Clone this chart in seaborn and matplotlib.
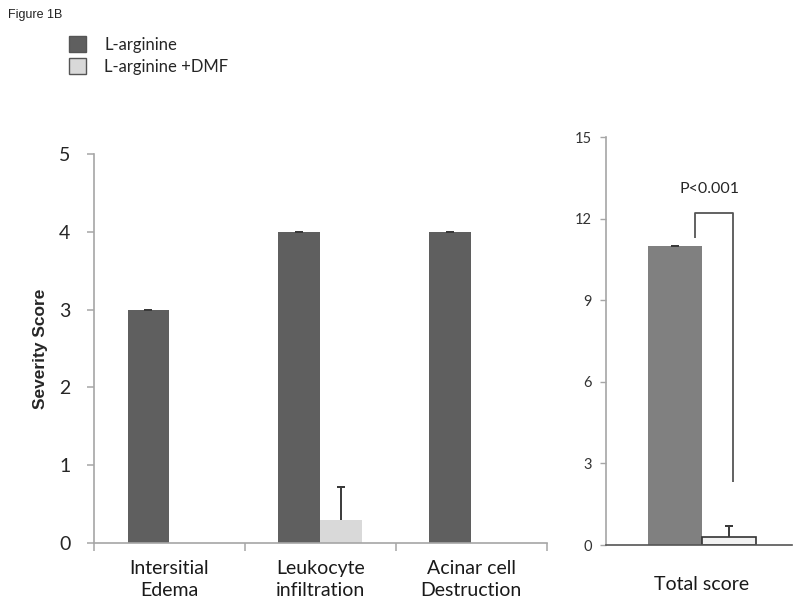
import pandas as pd
import matplotlib
matplotlib.use("Agg")
import matplotlib.pyplot as plt
from matplotlib.patches import Patch
import seaborn as sns

sns.set_theme(style="white")
plt.rcParams['font.family'] = ['Lato', 'DejaVu Sans']

# ---- data ----
categories = ["Intersitial\nEdema", "Leukocyte\ninfiltration", "Acinar cell\nDestruction"]
groups = ["L-arginine", "L-arginine +DMF"]
larg_vals = [3, 4, 4]
larg_err = [0, 0, 0]
dmf_vals = [0, 0.3, 0]
dmf_err = [0, 0.42, 0]

total_label = ["Total score"]
total_vals = [11, 0.3]
total_err = [0, 0.4]

left_yticks = [0, 1, 2, 3, 4, 5]
right_yticks = [0, 3, 6, 9, 12, 15]

df_left = pd.DataFrame({
    "category": categories * 2,
    "group": [groups[0]] * 3 + [groups[1]] * 3,
    "score": larg_vals + dmf_vals,
    "err": larg_err + dmf_err,
})
df_right = pd.DataFrame({
    "category": total_label * 2,
    "group": groups,
    "score": total_vals,
    "err": total_err,
})

spine_col = "#a6a6a6"
err_col = "#3a3a3a"

fig = plt.figure(figsize=(8, 6.15), dpi=100)
ax1 = fig.add_axes([0.1175, 0.117, 0.566, 0.6325])
ax2 = fig.add_axes([0.7575, 0.1138, 0.2325, 0.6634])


def draw_panel(ax, data, colors, width):
    sns.barplot(data=data, x="category", y="score", hue="group", palette=colors,
                width=width, errorbar=None, legend=False, ax=ax,
                edgecolor="none", linewidth=0, saturation=1)
    # one-sided (upper) error bars, cap only at the top
    for cont, g in zip(ax.containers, groups):
        sub = data[data["group"] == g]
        for bar, v, e in zip(cont.patches, sub["score"], sub["err"]):
            if v <= 0:
                continue
            xc = bar.get_x() + bar.get_width() / 2
            if e > 0:
                ax.vlines(xc, v, v + e, color=err_col, lw=1.4)
            ax.errorbar(xc, v + e, yerr=0, fmt="none", ecolor=err_col,
                        elinewidth=1.4, capsize=3, capthick=1.4)
    for s in ["top", "right"]:
        ax.spines[s].set_visible(False)
    for s in ["left", "bottom"]:
        ax.spines[s].set_color(spine_col)
        ax.spines[s].set_linewidth(1.2)
    ax.set_xlabel("")
    ax.set_ylabel("")


# ---- left panel ----
draw_panel(ax1, df_left, ["#5f5f5f", "#d9d9d9"], 0.556)
ax1.set_xlim(-0.5, 2.5)
ax1.set_ylim(0, 5)
ax1.set_yticks(left_yticks)
ax1.tick_params(axis="y", which="major", direction="out", length=5, width=1.1,
                color=spine_col, pad=12, labelsize=14, labelcolor="#262626", left=True)
ax1.set_xticks([0, 1, 2])
ax1.set_xticklabels(categories, fontsize=14, color="#1a1a1a", linespacing=1.4)
ax1.set_xticks([-0.5, 0.5, 1.5, 2.5], minor=True)
ax1.tick_params(axis="x", which="major", length=0, pad=12)
ax1.tick_params(axis="x", which="minor", direction="out", length=6, width=1.1,
                color=spine_col, bottom=True)
ax1.set_ylabel("Severity Score", fontsize=12.5, fontweight="bold",
               family="Liberation Sans", labelpad=8)

# ---- right panel ----
draw_panel(ax2, df_right, ["#808080", "#f2f2f2"], 0.585)
ax2.patches[1].set_edgecolor("#333333")
ax2.patches[1].set_linewidth(1.2)
ax2.set_xlim(-0.516, 0.484)
ax2.set_ylim(0, 15)
ax2.set_yticks(right_yticks)
ax2.tick_params(axis="y", direction="out", length=4, width=1.0, color=spine_col,
                pad=6, labelsize=10.5, labelcolor="#333333", left=True)
ax2.set_xticks([0])
ax2.set_xticklabels(total_label, fontsize=14, color="#1a1a1a")
ax2.tick_params(axis="x", length=0, pad=22)
ax2.spines["bottom"].set_color("#555555")

# significance bracket
dark_bar = ax2.containers[0].patches[0]
light_bar = ax2.containers[1].patches[0]
x_left = dark_bar.get_x() + dark_bar.get_width() - 0.04
x_right = light_bar.get_x() + light_bar.get_width() / 2 + 0.02
ax2.plot([x_left, x_left, x_right, x_right], [11.3, 12.2, 12.2, 2.3],
         color="#555555", lw=1.3, solid_capstyle="butt")
ax2.text((x_left + x_right) / 2 - 0.02, 13.1, "P<0.001", ha="center", va="center",
         fontsize=11.5, color="#262626")

# ---- legend + figure tag ----
handles = [Patch(facecolor="#5f5f5f", edgecolor="#555555", label=groups[0]),
           Patch(facecolor="#d9d9d9", edgecolor="#555555", label=groups[1])]
fig.legend(handles=handles, loc="upper left", bbox_to_anchor=(0.078, 0.952),
           frameon=False, fontsize=12, handlelength=1.0, handleheight=1.1,
           handletextpad=1.1, labelspacing=0.3, borderaxespad=0)
fig.text(0.01, 0.975, "Figure 1B", fontsize=9, family="Liberation Sans",
         ha="left", va="center", color="#222222")

fig.savefig("out.png", dpi=100, facecolor="white")
